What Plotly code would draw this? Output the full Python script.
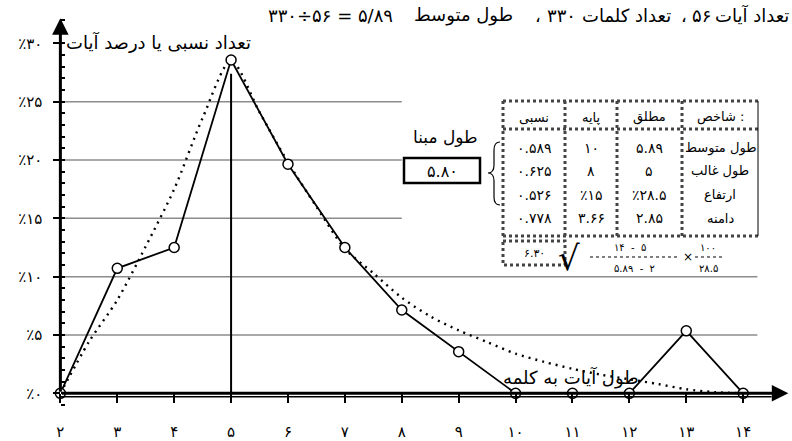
import plotly.graph_objects as go

# verse length (words) vs share of verses
lengths = [2, 3, 4, 5, 6, 7, 8, 9, 10, 11, 12, 13, 14]
verse_counts = [0, 6, 7, 16, 11, 7, 4, 2, 0, 0, 0, 3, 0]
total_verses = 56
percent = [c / total_verses * 100 for c in verse_counts]

# smoothed (dotted) curve
curve_x = [2, 2.5, 3, 3.5, 4, 4.5, 5, 5.5, 6, 6.5, 7, 7.5, 8, 8.5, 9, 9.5, 10, 10.5, 11, 11.5, 12, 12.5, 13, 13.5, 14]
curve_y = [0, 4.4, 8.0, 12.6, 17.5, 23.6, 28.5, 24.1, 19.8, 16.0, 12.4, 10.3, 8.2, 6.6, 5.4, 4.4, 3.4, 2.7, 2.1, 1.6, 1.2, 0.8, 0.35, 0.1, 0]

mode_x = 5
mode_top = 27.4

x_ticks = [2, 3, 4, 5, 6, 7, 8, 9, 10, 11, 12, 13, 14]
x_ticktext = ["۲", "۳", "۴", "۵", "۶", "۷", "۸", "۹", "۱۰", "۱۱", "۱۲", "۱۳", "۱۴"]
y_ticks = [0, 5, 10, 15, 20, 25, 30]
y_ticktext = ["٪۰", "٪۵", "٪۱۰", "٪۱۵", "٪۲۰", "٪۲۵", "٪۳۰"]

# title pieces (placed one by one so the mixed digits/letters keep their order)
title_pieces = [
    (330, "۳۳۰÷۵۶ = ۵/۸۹"),
    (463, "طول متوسط"),
    (538, "،"),
    (561, "۳۳۰"),
    (626, "تعداد کلمات"),
    (684, "،"),
    (701, "۵۶"),
    (752, "تعداد آیات"),
]
y_title = "تعداد نسبی یا درصد آیات"
x_title = "طول آیات به کلمه"

# table
col_heads = ["نسبی", "پایه", "مطلق", "شاخص :"]
row_labels = ["طول متوسط", "طول غالب", "ارتفاع", "دامنه"]
col_relative = ["۰.۵۸۹", "۰.۶۲۵", "۰.۵۲۶", "۰.۷۷۸"]
col_base = ["۱۰", "۸", "٪۱۵", "۳.۶۶"]
col_absolute = ["۵.۸۹", "۵", "٪۲۸.۵", "۲.۸۵"]
total_relative = "۶.۳۰"
base_label = "طول مبنا"
base_length = "۵.۸۰"

FONT = "DejaVu Sans"

W, H = 792, 441
L, R, T, B = 49, 2, 16, 36
PW, PH = W - L - R, H - T - B
X0, X1 = 1.8, 1.8 + PW / 56.9
Y0, Y1 = -1.0, -1.0 + PH / 11.667


def px(x):
    return (x - L) / PW


def py(y):
    return (H - B - y) / PH


fig = go.Figure()

fig.add_trace(go.Scatter(
    x=curve_x, y=curve_y, mode="lines",
    line=dict(color="black", width=2.4, dash="2px,5px", shape="spline", smoothing=0.8),
    hoverinfo="skip", showlegend=False,
))
fig.add_trace(go.Scatter(
    x=lengths, y=percent, mode="lines+markers",
    line=dict(color="black", width=1.8),
    marker=dict(symbol="circle", size=10, color="white", line=dict(color="black", width=1.5)),
    cliponaxis=False, showlegend=False,
))

shapes = []
# gridlines (short ones stop before the table)
for g, xend in [(5, 14.25), (10, 14.25), (15, 8.0), (20, 8.0), (25, 8.0)]:
    shapes.append(dict(type="line", xref="x", yref="y", x0=2, x1=xend, y0=g, y1=g,
                       line=dict(color="#8c8c8c", width=1.5), layer="below"))
# mode line
shapes.append(dict(type="line", xref="x", yref="y", x0=mode_x, x1=mode_x, y0=0, y1=mode_top,
                   line=dict(color="black", width=2), layer="below"))
# second stroke of the double x axis
shapes.append(dict(type="line", xref="x", yref="y", x0=2, x1=14.5, y0=-0.3, y1=-0.3,
                   line=dict(color="black", width=1.5)))

# table frame
dot = dict(color="#444", width=3, dash="dot")
tl, tr, tt, tb = 503, 758, 101, 236
cols = [565, 617, 682]


def hline(x0, x1, y, line):
    shapes.append(dict(type="line", xref="paper", yref="paper", x0=px(x0), x1=px(x1), y0=py(y), y1=py(y), line=line))


def vline(x, y0, y1, line):
    shapes.append(dict(type="line", xref="paper", yref="paper", x0=px(x), x1=px(x), y0=py(y0), y1=py(y1), line=line))


hline(tl, tr, tt, dot)
hline(tl, tr, tb, dot)
hline(tl, tr, 129, dot)
vline(tl, tt, tb, dot)
for c in cols:
    vline(c, tt, tb, dot)
vline(tr, tt, tb, dict(color="black", width=1))
# total box
shapes.append(dict(type="rect", xref="paper", yref="paper", x0=px(503), x1=px(565), y0=py(241), y1=py(265), line=dot))
# base-length box
shapes.append(dict(type="rect", xref="paper", yref="paper", x0=px(404), x1=px(480), y0=py(158), y1=py(183),
                   line=dict(color="black", width=2.5)))
# fraction bars
hline(590, 680, 257, dict(color="#555", width=1.5, dash="dot"))
hline(695, 722, 257, dict(color="#555", width=1.5, dash="dot"))
# brace
brace_pts = [(500, 142), (494, 142), (494, 150), (494, 165), (494, 173), (488, 173),
             (494, 173), (494, 181), (494, 197), (494, 205), (500, 205)]
p = [(px(a), py(b)) for a, b in brace_pts]
path = ("M{0[0]},{0[1]} Q{1[0]},{1[1]} {2[0]},{2[1]} L{3[0]},{3[1]} Q{4[0]},{4[1]} {5[0]},{5[1]} "
        "Q{6[0]},{6[1]} {7[0]},{7[1]} L{8[0]},{8[1]} Q{9[0]},{9[1]} {10[0]},{10[1]}").format(*p)
shapes.append(dict(type="path", xref="paper", yref="paper", path=path, line=dict(color="black", width=1.2)))

ann = []
# axes with arrows
ann.append(dict(x=2, y=Y1 - 0.2, ax=2, ay=0, xref="x", yref="y", axref="x", ayref="y", text="",
                showarrow=True, arrowhead=2, arrowsize=1.1, arrowwidth=3, arrowcolor="black"))
ann.append(dict(x=X1 - 0.03, y=0, ax=2, ay=0, xref="x", yref="y", axref="x", ayref="y", text="",
                showarrow=True, arrowhead=2, arrowsize=1.1, arrowwidth=3, arrowcolor="black"))


def label(x, y, text, size=12):
    ann.append(dict(x=px(x), y=py(y), xref="paper", yref="paper", text=text, showarrow=False,
                    xanchor="center", yanchor="middle", font=dict(family=FONT, size=size, color="black")))


for cx, piece in title_pieces:
    label(cx, 15, piece, size=18)
label(158, 42, y_title, size=18)
label(571, 377, x_title, size=18)

centers = [534, 591, 649, 720]
for cx, h in zip(centers, col_heads):
    label(cx, 117, h, size=13)
rows_y = [148, 171, 195, 218]
for i, ry in enumerate(rows_y):
    label(534, ry, col_relative[i], size=14)
    label(591, ry, col_base[i], size=14)
    label(649, ry, col_absolute[i], size=14)
    label(720, ry, row_labels[i], size=13)
label(534, 253, total_relative, size=11)
label(446, 137, base_label, size=17)
label(442, 171, base_length, size=16)
# formula
ann.append(dict(x=px(582), y=py(258), xref="paper", yref="paper", text="√", showarrow=False,
                font=dict(family="DejaVu Serif", size=34, color="black")))
label(630, 247, "۱۴  -  ۵", size=10)
label(634, 268, "۵.۸۹  -  ۲", size=10)
label(688, 257, "×", size=12)
label(708, 247, "۱۰۰", size=10)
label(708, 268, "۲۸.۵", size=10)

fig.update_layout(
    width=W, height=H,
    margin=dict(l=L, r=R, t=T, b=B, autoexpand=False),
    paper_bgcolor="white", plot_bgcolor="white",
    font=dict(family=FONT, size=13, color="black"),
    showlegend=False,
    shapes=shapes, annotations=ann,
    xaxis=dict(range=[X0, X1], anchor="free", position=(0 - Y0) / (Y1 - Y0), automargin=False,
               tickvals=x_ticks, ticktext=x_ticktext, ticks="outside", ticklen=9, tickwidth=2,
               tickcolor="black", ticklabelstandoff=16, tickfont=dict(size=15),
               showgrid=False, zeroline=False, showline=False),
    yaxis=dict(range=[Y0, Y1], anchor="free", position=(2 - X0) / (X1 - X0), automargin=False,
               tickvals=y_ticks, ticktext=y_ticktext, ticks="outside", ticklen=7, tickwidth=2,
               tickcolor="black", ticklabelstandoff=8, tickfont=dict(size=15),
               minor=dict(dtick=1, ticks="inside", ticklen=4, tickwidth=1.5, tickcolor="black"),
               showgrid=False, zeroline=False, showline=False),
)

# the page's default body margin would push the figure off the 792x441 window
fig.write_html("out.html", config={"displayModeBar": False},
               post_script="document.body.style.margin='0';")
